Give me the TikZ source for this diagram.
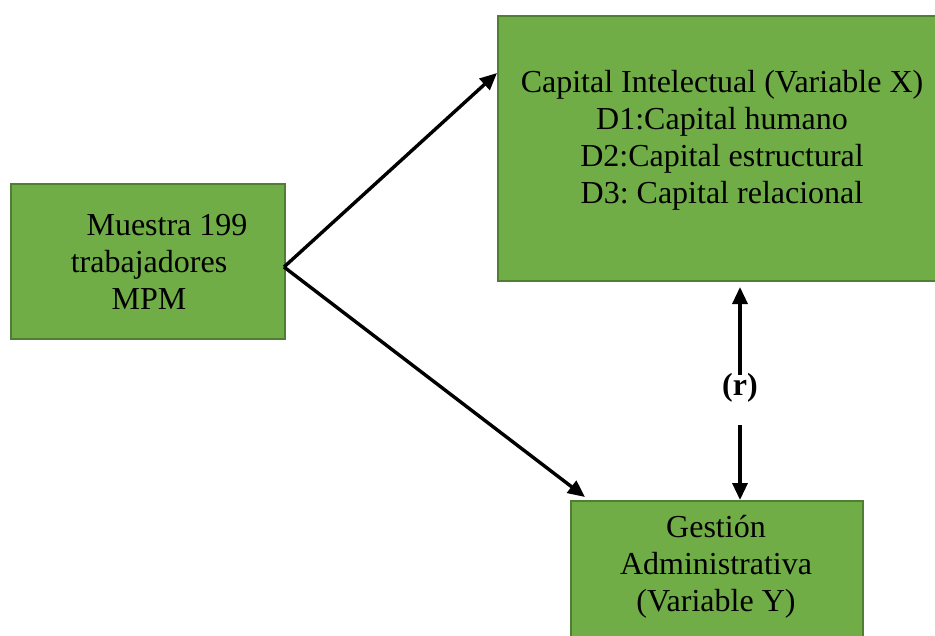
\documentclass[tikz,border=0pt]{standalone}
\usepackage{fontspec}
\setmainfont{Liberation Serif}
\usetikzlibrary{arrows.meta}
\definecolor{boxfill}{HTML}{70AD47}
\definecolor{boxline}{HTML}{507E32}
\frenchspacing
\begin{document}
\begin{tikzpicture}[x=1pt,y=-1pt,
  box/.style={draw=boxline,fill=boxfill,line width=2pt,rectangle,inner sep=0pt,anchor=north west},
  txt/.style={align=center,font=\fontsize{32}{37}\selectfont,inner sep=0pt},
  conn/.style={line width=3.4pt,-{Triangle[length=17pt,width=15pt]}}]
\useasboundingbox (0,0) rectangle (935,635);
\clip (0,0) rectangle (935,635);
% boxes
\node[box,minimum width=274pt,minimum height=155pt] (m) at (10,183) {};
\node[box,minimum width=450pt,minimum height=265pt] (c) at (497,15) {};
\node[box,minimum width=292pt,minimum height=150pt] (g) at (570,500) {};
% texts
\node[txt] (mt) at (149,262) {\hspace*{36pt}Muestra 199\\trabajadores\\MPM};
\node[txt] (ct) at (722,140) {Capital Intelectual (Variable X)\\D1:Capital humano\\D2:Capital estructural\\D3: Capital relacional};
\node[txt] (gt) at (716,567) {Gestión\\Administrativa\\(Variable Y)};
\node[txt,font=\fontsize{32}{37}\selectfont\bfseries] (r) at (740,388) {(r)};
% connector end points
\coordinate (src) at (284,267);
\coordinate (cin) at (497,73);
\coordinate (gin) at (585,497);
\coordinate (up0) at (740,375);
\coordinate (cup) at (740,287);
\coordinate (dn0) at (740,425);
\coordinate (gdn) at (740,500);
% connectors
\draw[conn] (src) -- (cin);
\draw[conn] (src) -- (gin);
\draw[conn] (up0) -- (cup);
\draw[conn] (dn0) -- (gdn);
\end{tikzpicture}
\end{document}
